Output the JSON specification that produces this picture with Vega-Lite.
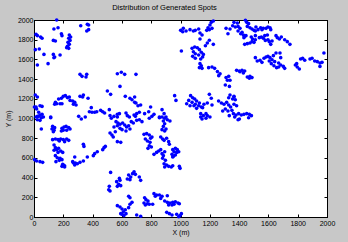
{
"$schema": "https://vega.github.io/schema/vega-lite/v6.json",
"width": 293, "height": 197,
"autosize": "none",
"padding": {"left": 34, "top": 20, "right": 21, "bottom": 25},
"background": "#c8c8c8",
"view": {"fill": "white", "stroke": "black", "strokeWidth": 1},
"config": {"font": "Liberation Sans"},
"title": {"text": "Distribution of Generated Spots", "fontSize": 7.5, "font": "Liberation Sans", "fontWeight": "normal", "color": "black", "anchor": "middle", "dx": -16, "offset": 5},
"data": {"values": [
{"x":155,"y":2000},{"x":136,"y":1909},{"x":164,"y":1922},{"x":319,"y":1942},{"x":364,"y":1956},{"x":373,"y":1949},{"x":373,"y":1902},{"x":360,"y":1888},{"x":14,"y":1854},{"x":23,"y":1841},{"x":45,"y":1827},{"x":55,"y":1814},{"x":187,"y":1861},{"x":191,"y":1841},{"x":241,"y":1848},{"x":250,"y":1827},{"x":237,"y":1814},{"x":246,"y":1793},{"x":232,"y":1773},{"x":241,"y":1753},{"x":228,"y":1733},{"x":237,"y":1712},{"x":223,"y":1719},{"x":132,"y":1793},{"x":146,"y":1787},{"x":9,"y":1699},{"x":36,"y":1706},{"x":68,"y":1651},{"x":132,"y":1651},{"x":141,"y":1624},{"x":136,"y":1617},{"x":178,"y":1645},{"x":23,"y":1543},{"x":96,"y":1557},{"x":314,"y":1448},{"x":328,"y":1428},{"x":360,"y":1448},{"x":355,"y":1421},{"x":569,"y":1455},{"x":596,"y":1469},{"x":619,"y":1448},{"x":587,"y":1326},{"x":9,"y":1239},{"x":23,"y":1218},{"x":501,"y":1279},{"x":523,"y":1245},{"x":200,"y":1225},{"x":214,"y":1232},{"x":228,"y":1212},{"x":241,"y":1218},{"x":187,"y":1205},{"x":168,"y":1198},{"x":314,"y":1225},{"x":337,"y":1239},{"x":332,"y":1218},{"x":369,"y":1205},{"x":246,"y":1184},{"x":264,"y":1178},{"x":278,"y":1164},{"x":146,"y":1164},{"x":155,"y":1150},{"x":141,"y":1144},{"x":178,"y":1150},{"x":191,"y":1150},{"x":269,"y":1144},{"x":287,"y":1137},{"x":623,"y":1225},{"x":655,"y":1205},{"x":669,"y":1191},{"x":687,"y":1218},{"x":687,"y":1164},{"x":3,"y":1117},{"x":14,"y":1117},{"x":41,"y":1130},{"x":55,"y":1123},{"x":18,"y":1096},{"x":391,"y":1110},{"x":378,"y":1069},{"x":396,"y":1063},{"x":414,"y":1063},{"x":428,"y":1069},{"x":455,"y":1083},{"x":469,"y":1069},{"x":482,"y":1056},{"x":514,"y":1090},{"x":305,"y":1022},{"x":323,"y":995},{"x":350,"y":1015},{"x":569,"y":1042},{"x":583,"y":1049},{"x":628,"y":1056},{"x":637,"y":1029},{"x":651,"y":1015},{"x":683,"y":1036},{"x":32,"y":1063},{"x":41,"y":1036},{"x":55,"y":1042},{"x":64,"y":1015},{"x":23,"y":1022},{"x":114,"y":1015},
{"x":14,"y":1015},{"x":32,"y":1022},{"x":50,"y":1008},{"x":23,"y":988},{"x":41,"y":981},{"x":114,"y":1008},{"x":50,"y":893},{"x":127,"y":920},{"x":141,"y":907},{"x":123,"y":893},{"x":137,"y":880},{"x":132,"y":866},{"x":191,"y":900},{"x":205,"y":914},{"x":219,"y":920},{"x":237,"y":907},{"x":246,"y":893},{"x":223,"y":880},{"x":200,"y":880},{"x":187,"y":873},{"x":127,"y":785},{"x":146,"y":792},{"x":164,"y":785},{"x":182,"y":792},{"x":200,"y":785},{"x":223,"y":792},{"x":237,"y":778},{"x":209,"y":765},{"x":173,"y":771},{"x":137,"y":731},{"x":146,"y":704},{"x":155,"y":684},{"x":137,"y":677},{"x":168,"y":697},{"x":182,"y":670},{"x":196,"y":656},{"x":164,"y":656},{"x":146,"y":623},{"x":159,"y":602},{"x":178,"y":596},{"x":173,"y":575},{"x":191,"y":582},{"x":150,"y":562},{"x":196,"y":535},{"x":209,"y":521},{"x":191,"y":514},{"x":209,"y":508},{"x":200,"y":528},{"x":5,"y":582},{"x":18,"y":568},{"x":41,"y":562},{"x":59,"y":555},{"x":264,"y":562},{"x":282,"y":548},{"x":278,"y":528},{"x":296,"y":541},{"x":314,"y":555},{"x":337,"y":568},{"x":269,"y":548},{"x":278,"y":609},{"x":337,"y":738},{"x":341,"y":717},{"x":364,"y":609},{"x":405,"y":623},{"x":414,"y":643},{"x":432,"y":663},{"x":469,"y":684},{"x":478,"y":704},{"x":487,"y":717},{"x":519,"y":1029},{"x":528,"y":1002},{"x":546,"y":1022},{"x":569,"y":1015},{"x":560,"y":968},{"x":573,"y":954},{"x":587,"y":941},{"x":569,"y":927},{"x":605,"y":954},{"x":619,"y":934},{"x":632,"y":914},{"x":646,"y":927},{"x":655,"y":893},{"x":601,"y":887},{"x":587,"y":900},{"x":546,"y":914},{"x":519,"y":853},{"x":532,"y":832},{"x":541,"y":812},{"x":555,"y":866},{"x":628,"y":873},{"x":664,"y":968},{"x":678,"y":954},{"x":569,"y":765},{"x":592,"y":758},{"x":523,"y":453},{"x":583,"y":392},{"x":564,"y":359},{"x":578,"y":332},{"x":592,"y":318},{"x":569,"y":311},{"x":587,"y":372},{"x":514,"y":311},{"x":510,"y":277},{"x":519,"y":264},{"x":646,"y":426},{"x":660,"y":406},{"x":673,"y":440},{"x":637,"y":386},{"x":655,"y":379},{"x":683,"y":460},{"x":646,"y":210},{"x":655,"y":196},{"x":569,"y":115},{"x":587,"y":101},{"x":601,"y":81},{"x":610,"y":54},{"x":592,"y":34},{"x":623,"y":74},{"x":646,"y":95},{"x":655,"y":129},{"x":628,"y":34},{"x":614,"y":14},{"x":601,"y":27},{"x":669,"y":149},
{"x":1001,"y":1895},{"x":1019,"y":1915},{"x":1038,"y":1888},{"x":1015,"y":1881},{"x":1065,"y":1902},{"x":1088,"y":1888},{"x":1101,"y":1895},{"x":1124,"y":1909},{"x":1188,"y":1922},{"x":1201,"y":1949},{"x":1210,"y":1976},{"x":1224,"y":1990},{"x":1197,"y":1902},{"x":1215,"y":1915},{"x":1179,"y":1895},{"x":1133,"y":1868},{"x":1147,"y":1848},{"x":1133,"y":1807},{"x":1311,"y":1915},{"x":1338,"y":1909},{"x":1324,"y":1861},{"x":1197,"y":1794},{"x":1183,"y":1766},{"x":1224,"y":1753},{"x":1170,"y":1739},{"x":1006,"y":1685},{"x":1079,"y":1712},{"x":1097,"y":1726},{"x":1115,"y":1719},{"x":1129,"y":1699},{"x":1088,"y":1678},{"x":1101,"y":1658},{"x":1124,"y":1645},{"x":1142,"y":1672},{"x":1156,"y":1651},{"x":1151,"y":1624},{"x":1138,"y":1604},{"x":1083,"y":1631},{"x":1101,"y":1611},{"x":1133,"y":1557},{"x":1142,"y":1536},{"x":1129,"y":1516},{"x":1147,"y":1509},{"x":1192,"y":1516},{"x":1215,"y":1523},{"x":1233,"y":1509},{"x":1252,"y":1476},{"x":1270,"y":1455},{"x":1261,"y":1435},{"x":1311,"y":1415},{"x":1329,"y":1428},{"x":1338,"y":1388},{"x":1320,"y":1388},{"x":1306,"y":1340},{"x":1334,"y":1326},{"x":696,"y":1448},{"x":960,"y":1232},{"x":969,"y":1184},{"x":1069,"y":1232},{"x":1083,"y":1211},{"x":1097,"y":1198},{"x":1110,"y":1178},{"x":1079,"y":1164},{"x":1101,"y":1144},{"x":1129,"y":1157},{"x":1056,"y":1184},{"x":1042,"y":1150},{"x":1065,"y":1130},{"x":1092,"y":1130},{"x":1124,"y":1130},{"x":1142,"y":1117},{"x":1110,"y":1103},{"x":1197,"y":1245},{"x":1210,"y":1205},{"x":1183,"y":1157},{"x":1160,"y":1144},{"x":1151,"y":1110},{"x":1138,"y":1049},{"x":1156,"y":1029},{"x":1174,"y":1049},{"x":1215,"y":1137},{"x":1260,"y":1178},{"x":1279,"y":1157},{"x":1297,"y":1144},{"x":1315,"y":1164},{"x":1329,"y":1137},{"x":1342,"y":1117},{"x":1306,"y":1096},{"x":1288,"y":1076},{"x":1324,"y":1076},{"x":1351,"y":1083},{"x":1338,"y":1239},{"x":1329,"y":1211},{"x":1365,"y":1218},{"x":696,"y":1157},{"x":710,"y":1130},{"x":728,"y":1137},{"x":701,"y":1049},{"x":719,"y":1063},{"x":692,"y":1022},{"x":755,"y":1049},{"x":796,"y":1117},{"x":783,"y":1069},{"x":819,"y":1042},{"x":874,"y":1090},{"x":888,"y":1049},{"x":856,"y":1015},{"x":901,"y":1015},
{"x":701,"y":981},{"x":719,"y":988},{"x":737,"y":968},{"x":787,"y":1002},{"x":805,"y":1022},{"x":856,"y":1008},{"x":874,"y":1015},{"x":892,"y":1002},{"x":883,"y":975},{"x":910,"y":988},{"x":928,"y":975},{"x":892,"y":947},{"x":883,"y":920},{"x":901,"y":893},{"x":892,"y":873},{"x":874,"y":887},{"x":865,"y":812},{"x":878,"y":792},{"x":888,"y":778},{"x":905,"y":799},{"x":919,"y":765},{"x":924,"y":738},{"x":751,"y":839},{"x":769,"y":846},{"x":787,"y":832},{"x":760,"y":792},{"x":774,"y":771},{"x":792,"y":758},{"x":787,"y":724},{"x":778,"y":697},{"x":801,"y":711},{"x":805,"y":812},{"x":796,"y":799},{"x":819,"y":636},{"x":837,"y":656},{"x":851,"y":670},{"x":865,"y":684},{"x":874,"y":643},{"x":883,"y":623},{"x":878,"y":596},{"x":892,"y":663},{"x":897,"y":575},{"x":888,"y":541},{"x":905,"y":528},{"x":919,"y":514},{"x":937,"y":508},{"x":947,"y":521},{"x":892,"y":508},{"x":992,"y":514},{"x":997,"y":494},{"x":947,"y":684},{"x":965,"y":697},{"x":978,"y":684},{"x":956,"y":663},{"x":974,"y":656},{"x":988,"y":663},{"x":942,"y":636},{"x":951,"y":616},{"x":965,"y":629},{"x":947,"y":609},{"x":692,"y":433},{"x":719,"y":406},{"x":728,"y":372},{"x":819,"y":237},{"x":837,"y":223},{"x":828,"y":210},{"x":856,"y":223},{"x":874,"y":210},{"x":865,"y":189},{"x":910,"y":216},{"x":755,"y":196},{"x":764,"y":176},{"x":778,"y":162},{"x":774,"y":135},{"x":760,"y":122},{"x":787,"y":129},{"x":810,"y":129},{"x":751,"y":142},{"x":892,"y":162},{"x":910,"y":149},{"x":928,"y":142},{"x":947,"y":149},{"x":965,"y":155},{"x":983,"y":142},{"x":992,"y":135},{"x":919,"y":122},{"x":942,"y":122},{"x":956,"y":129},{"x":701,"y":20},{"x":728,"y":7},{"x":906,"y":47},{"x":924,"y":34},{"x":942,"y":20},{"x":974,"y":27},{"x":997,"y":14},{"x":1006,"y":34},{"x":988,"y":2},{"x":1201,"y":1015},{"x":1174,"y":1002},{"x":1147,"y":995},{"x":1138,"y":1015},{"x":1183,"y":1029},{"x":1333,"y":1029},
{"x":1365,"y":1976},{"x":1388,"y":1969},{"x":1374,"y":1929},{"x":1393,"y":1935},{"x":1406,"y":1915},{"x":1420,"y":1875},{"x":1429,"y":1848},{"x":1438,"y":1834},{"x":1447,"y":1841},{"x":1393,"y":1888},{"x":1411,"y":1861},{"x":1433,"y":1821},{"x":1356,"y":1942},{"x":1443,"y":1997},{"x":1452,"y":1976},{"x":1465,"y":1963},{"x":1456,"y":1935},{"x":1474,"y":1922},{"x":1488,"y":1909},{"x":1502,"y":1895},{"x":1511,"y":1888},{"x":1515,"y":1929},{"x":1529,"y":1902},{"x":1547,"y":1922},{"x":1556,"y":1902},{"x":1565,"y":1915},{"x":1584,"y":1915},{"x":1597,"y":1929},{"x":1611,"y":1922},{"x":1616,"y":1902},{"x":1438,"y":1753},{"x":1456,"y":1760},{"x":1474,"y":1766},{"x":1488,"y":1780},{"x":1502,"y":1773},{"x":1511,"y":1800},{"x":1492,"y":1807},{"x":1483,"y":1827},{"x":1511,"y":1841},{"x":1538,"y":1821},{"x":1552,"y":1827},{"x":1565,"y":1814},{"x":1579,"y":1793},{"x":1597,"y":1800},{"x":1606,"y":1780},{"x":1616,"y":1753},{"x":1625,"y":1787},{"x":1593,"y":1848},{"x":1575,"y":1841},{"x":1652,"y":1841},{"x":1661,"y":1821},{"x":1675,"y":1807},{"x":1688,"y":1827},{"x":1711,"y":1800},{"x":1729,"y":1780},{"x":1747,"y":1753},{"x":1511,"y":1618},{"x":1524,"y":1584},{"x":1543,"y":1591},{"x":1556,"y":1570},{"x":1570,"y":1611},{"x":1584,"y":1624},{"x":1597,"y":1631},{"x":1611,"y":1618},{"x":1625,"y":1597},{"x":1634,"y":1638},{"x":1652,"y":1665},{"x":1679,"y":1665},{"x":1684,"y":1618},{"x":1606,"y":1584},{"x":1620,"y":1557},{"x":1638,"y":1536},{"x":1656,"y":1516},{"x":1670,"y":1523},{"x":1684,"y":1543},{"x":1702,"y":1529},{"x":1711,"y":1509},{"x":1643,"y":1577},{"x":1670,"y":1563},{"x":1784,"y":1543},{"x":1797,"y":1523},{"x":1811,"y":1502},{"x":1793,"y":1557},{"x":1820,"y":1604},{"x":1834,"y":1611},{"x":1848,"y":1591},{"x":1884,"y":1604},{"x":1898,"y":1611},{"x":1916,"y":1584},{"x":1934,"y":1577},{"x":1952,"y":1563},{"x":1966,"y":1570},{"x":1952,"y":1529},{"x":1979,"y":1665},{"x":1383,"y":1489},{"x":1402,"y":1482},{"x":1420,"y":1489},{"x":1438,"y":1482},{"x":1429,"y":1462},{"x":1406,"y":1475},{"x":1456,"y":1421},{"x":1474,"y":1428},{"x":1488,"y":1415},{"x":1470,"y":1408},{"x":1365,"y":1225},{"x":1356,"y":1198},{"x":1374,"y":1191},{"x":1365,"y":1144},{"x":1383,"y":1130},{"x":1361,"y":1049},{"x":1379,"y":1036},{"x":1397,"y":1049},{"x":1415,"y":1036},{"x":1433,"y":1042},{"x":1452,"y":1049},{"x":1470,"y":1042},{"x":1484,"y":1029},{"x":1370,"y":1015},{"x":1402,"y":995},{"x":1393,"y":988},{"x":1465,"y":1008}
]},
"layer": [
{"mark": {"type": "point", "shape": "circle", "filled": true, "size": 13, "color": "#0000ff", "opacity": 1, "strokeWidth": 0},
 "encoding": {
  "x": {"field": "x", "type": "quantitative", "scale": {"domain": [0, 2000], "nice": false, "zero": false},
        "axis": {"orient": "bottom", "format": "d", "values": [0,200,400,600,800,1000,1200,1400,1600,1800,2000], "grid": false, "tickSize": -3, "tickColor": "black", "domainColor": "black", "labelFont": "Liberation Sans", "labelFontSize": 7, "labelColor": "black", "labelPadding": 5, "labelFlush": false, "labelOverlap": false, "title": "X (m)", "titleFont": "Liberation Sans", "titleFontSize": 7, "titleFontWeight": "normal", "titleColor": "black", "titlePadding": 2}},
  "y": {"field": "y", "type": "quantitative", "scale": {"domain": [0, 2000], "nice": false, "zero": false},
        "axis": {"orient": "left", "format": "d", "values": [0,200,400,600,800,1000,1200,1400,1600,1800,2000], "grid": false, "tickSize": -3, "tickColor": "black", "domainColor": "black", "labelFont": "Liberation Sans", "labelFontSize": 7, "labelColor": "black", "labelPadding": 4, "labelFlush": false, "labelOverlap": false, "title": "Y (m)", "titleFont": "Liberation Sans", "titleFontSize": 7, "titleFontWeight": "normal", "titleColor": "black", "titlePadding": 6}}
 }},
{"mark": {"type": "point", "opacity": 0},
 "encoding": {
  "x": {"field": "x", "type": "quantitative", "axis": {"orient": "top", "values": [0,200,400,600,800,1000,1200,1400,1600,1800,2000], "grid": false, "labels": false, "title": null, "tickSize": -3, "tickColor": "black", "domainColor": "black"}},
  "y": {"field": "y", "type": "quantitative", "axis": {"orient": "right", "values": [0,200,400,600,800,1000,1200,1400,1600,1800,2000], "grid": false, "labels": false, "title": null, "tickSize": -3, "tickColor": "black", "domainColor": "black"}}
 }}
],
"resolve": {"axis": {"x": "independent", "y": "independent"}}
}
